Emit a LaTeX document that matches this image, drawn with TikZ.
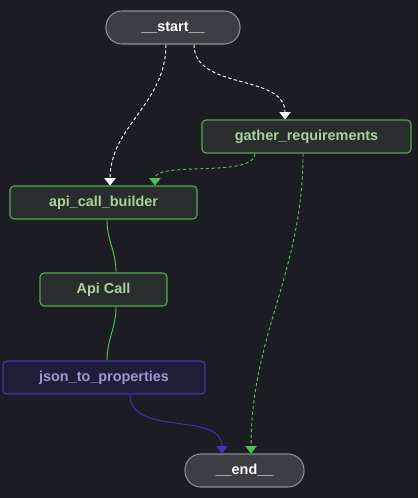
\documentclass[tikz,border=0pt]{standalone}
\usepackage{fontspec}
\setmainfont{Liberation Sans}
\usetikzlibrary{arrows.meta}

\definecolor{bgcol}{RGB}{27,29,35}
\definecolor{nodefill}{RGB}{42,45,46}
\definecolor{nodegreen}{RGB}{88,168,82}
\definecolor{textgreen}{RGB}{168,214,152}
\definecolor{termfill}{RGB}{60,62,67}
\definecolor{termline}{RGB}{140,142,146}
\definecolor{toolfill}{RGB}{30,30,58}
\definecolor{toolline}{RGB}{62,58,170}
\definecolor{tooltext}{RGB}{156,154,210}
\definecolor{edgegreen}{RGB}{80,196,80}
\definecolor{edgeblue}{RGB}{58,52,200}

\begin{document}
\begin{tikzpicture}[x=0.75pt,y=-0.75pt,>={Triangle[width=8.5pt,length=5.5pt]},
  font=\fontsize{10.8}{13}\selectfont\bfseries,
  base node/.style={draw,inner sep=0pt,minimum height=24.75pt,line width=0.8pt},
  step node/.style={base node,rounded corners=3pt,fill=nodefill,draw=nodegreen,text=textgreen},
  term node/.style={base node,rounded corners=12pt,fill=termfill,draw=termline,text=white},
  tool node/.style={base node,rounded corners=3pt,fill=toolfill,draw=toolline,text=tooltext},
  dash edge/.style={->,dash pattern=on 2.5pt off 1.8pt,line width=0.7pt},
  plain edge/.style={line width=0.7pt}]

  \fill[bgcol] (0,0) rectangle (418,498);

  \node[term node,minimum width=100.5pt] (start) at (173,27.5) {\_\_start\_\_};
  \node[step node,minimum width=156.75pt] (gather) at (306.5,136.5) {gather\_requirements};
  \node[step node,minimum width=140.25pt] (builder) at (103.5,202.5) {api\_call\_builder};
  \node[step node,minimum width=95.25pt] (apicall) at (103.5,289.5) {Api Call};
  \node[tool node,minimum width=151.5pt] (json) at (104,377.5) {json\_to\_properties};
  \node[term node,minimum width=89.25pt] (end) at (244.5,470.5) {\_\_end\_\_};

  % conditional edges
  \draw[dash edge,white] ([xshift=-5.25pt]start.south) to[out=-90,in=90] ([xshift=4.9pt]builder.north);
  \draw[dash edge,white] ([xshift=15.75pt]start.south) to[out=-90,in=90] ([xshift=-16.1pt]gather.north);
  \draw[dash edge,edgegreen] ([xshift=-38.6pt]gather.south) to[out=-90,in=90,looseness=0.6] ([xshift=38.6pt]builder.north);
  \draw[dash edge,edgegreen] ([xshift=-2.6pt]gather.south) to[out=-90,in=90] ([xshift=4.9pt]end.north);

  % plain edges
  \draw[plain edge,edgegreen] ([xshift=2.6pt]builder.south) to[out=-90,in=90] ([xshift=9.4pt]apicall.north);
  \draw[plain edge,edgegreen] ([xshift=9.4pt]apicall.south) to[out=-90,in=90] ([xshift=2.25pt]json.north);
  \draw[plain edge,->,edgeblue] ([xshift=19.5pt]json.south) to[out=-90,in=90] ([xshift=-16.9pt]end.north);
\end{tikzpicture}
\end{document}
